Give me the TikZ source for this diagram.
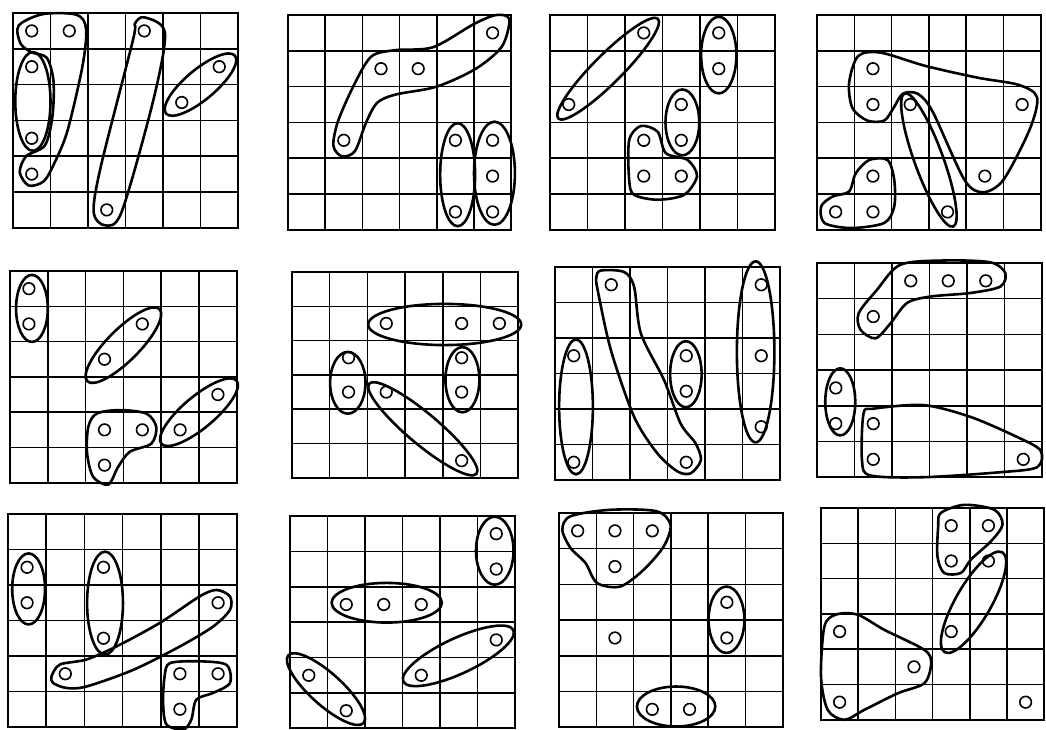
\documentclass[tikz,border=0pt]{standalone}
\usepackage{tikz}

\begin{document}
\begin{tikzpicture}[gridline/.style={line width=1.5pt},
  border/.style={line width=2pt},
  hole/.style={line width=1.6pt},
  lasso/.style={line width=2.6pt,line join=round}]
  \useasboundingbox (0pt,0pt) rectangle (1046pt,-729pt);

  % first row
  \begin{scope}[shift={(13pt,-13pt)},x=37.5pt,y=35.8pt,yscale=-1]
    \draw[gridline,step=1] (0,0) grid (6,6);
    \draw[border] (0,0) rectangle (6,6);
    \draw[hole] (0.5,0.5) circle (5.8pt);
    \draw[hole] (1.5,0.5) circle (5.8pt);
    \draw[hole] (0.5,1.5) circle (5.8pt);
    \draw[hole] (3.5,0.5) circle (5.8pt);
    \draw[hole] (5.5,1.5) circle (5.8pt);
    \draw[hole] (4.5,2.5) circle (5.8pt);
    \draw[hole] (0.5,3.5) circle (5.8pt);
    \draw[hole] (0.5,4.5) circle (5.8pt);
    \draw[hole] (2.5,5.5) circle (5.8pt);
    \draw[lasso] plot[smooth cycle] coordinates {(0.15,0.35) (0.8,0.03) (1.7,0.05) (1.95,0.45) (1.85,1.5) (1.45,3.3) (1.1,4.2) (0.82,4.7) (0.42,4.82) (0.18,4.45) (0.35,4.0) (0.85,3.7) (1.05,2.9) (1.08,1.9) (0.9,1.25) (0.5,1.1) (0.2,0.85)};
    \draw[lasso] (0.53,2.47) ellipse [x radius=0.47, y radius=1.38];
    \draw[lasso] plot[smooth cycle] coordinates {(3.5,0.12) (4.05,0.55) (3.75,2.4) (2.9,5.55) (2.45,5.93) (2.15,5.55) (2.35,4.25) (3.2,0.75) (3.25,0.3)};
    \draw[lasso,rotate around={-40:(5,2)}] (5,2) ellipse [x radius=1.2, y radius=0.42];
  \end{scope}

  \begin{scope}[shift={(288pt,-15pt)},x=37.2pt,y=35.8pt,yscale=-1]
    \draw[gridline,step=1] (0,0) grid (6,6);
    \draw[border] (0,0) rectangle (6,6);
    \draw[hole] (5.5,0.5) circle (5.8pt);
    \draw[hole] (2.5,1.5) circle (5.8pt);
    \draw[hole] (3.5,1.5) circle (5.8pt);
    \draw[hole] (1.5,3.5) circle (5.8pt);
    \draw[hole] (4.5,3.5) circle (5.8pt);
    \draw[hole] (5.5,3.5) circle (5.8pt);
    \draw[hole] (5.5,4.5) circle (5.8pt);
    \draw[hole] (4.5,5.5) circle (5.8pt);
    \draw[hole] (5.5,5.5) circle (5.8pt);
    \draw[lasso] plot[smooth cycle] coordinates {(5.95,0.12) (5.75,0.88) (5.05,1.5) (4.0,2.0) (2.9,2.22) (2.4,2.45) (2.1,3.0) (1.8,3.8) (1.45,3.95) (1.22,3.65) (1.35,2.95) (1.8,1.9) (2.25,1.15) (2.9,0.98) (3.9,0.9) (5.0,0.25) (5.6,0.0)};
    \draw[lasso] (4.56,4.46) ellipse [x radius=0.47, y radius=1.44];
    \draw[lasso] (5.55,4.42) ellipse [x radius=0.55, y radius=1.44];
  \end{scope}

  \begin{scope}[shift={(550pt,-15pt)},x=37.5pt,y=35.8pt,yscale=-1]
    \draw[gridline,step=1] (0,0) grid (6,6);
    \draw[border] (0,0) rectangle (6,6);
    \draw[hole] (2.5,0.5) circle (5.8pt);
    \draw[hole] (4.5,0.5) circle (5.8pt);
    \draw[hole] (4.5,1.5) circle (5.8pt);
    \draw[hole] (0.5,2.5) circle (5.8pt);
    \draw[hole] (3.5,2.5) circle (5.8pt);
    \draw[hole] (3.5,3.5) circle (5.8pt);
    \draw[hole] (2.5,3.5) circle (5.8pt);
    \draw[hole] (2.5,4.5) circle (5.8pt);
    \draw[hole] (3.5,4.5) circle (5.8pt);
    \draw[lasso,rotate around={-45:(1.55,1.5)}] (1.55,1.5) ellipse [x radius=1.88, y radius=0.4];
    \draw[lasso] (4.5,1.12) ellipse [x radius=0.47, y radius=1.07];
    \draw[lasso] (3.53,3.0) ellipse [x radius=0.45, y radius=0.92];
    \draw[lasso] plot[smooth cycle] coordinates {(2.11,3.5) (2.42,3.1) (2.87,3.26) (3.09,3.86) (3.67,4.05) (3.92,4.5) (3.58,5.02) (2.87,5.16) (2.24,5.02) (2.11,4.6)};
  \end{scope}

  \begin{scope}[shift={(817pt,-15pt)},x=37.3pt,y=35.8pt,yscale=-1]
    \draw[gridline,step=1] (0,0) grid (6,6);
    \draw[border] (0,0) rectangle (6,6);
    \draw[hole] (1.5,1.5) circle (5.8pt);
    \draw[hole] (1.5,2.5) circle (5.8pt);
    \draw[hole] (2.5,2.5) circle (5.8pt);
    \draw[hole] (5.5,2.5) circle (5.8pt);
    \draw[hole] (4.5,4.5) circle (5.8pt);
    \draw[hole] (1.5,4.5) circle (5.8pt);
    \draw[hole] (0.5,5.5) circle (5.8pt);
    \draw[hole] (1.5,5.5) circle (5.8pt);
    \draw[hole] (3.5,5.5) circle (5.8pt);
    \draw[lasso] plot[smooth cycle] coordinates {(0.86,1.9) (1.1,1.15) (1.7,1.05) (2.9,1.42) (4.3,1.75) (5.4,1.95) (5.9,2.3) (5.7,3.2) (5.0,4.6) (4.45,4.95) (3.95,4.6) (3.1,2.7) (2.7,2.2) (2.3,2.2) (2.05,2.6) (1.8,2.95) (1.35,2.95) (0.95,2.6)};
    \draw[lasso,rotate around={70:(3.0,4.05)}] (3.0,4.05) ellipse [x radius=1.9, y radius=0.4];
    \draw[lasso] plot[smooth cycle] coordinates {(1.04,4.42) (1.4,4.05) (1.89,4.05) (2.07,4.6) (2.07,5.35) (1.8,5.81) (0.91,5.95) (0.2,5.81) (0.11,5.35) (0.42,5.07) (0.86,4.93)};
  \end{scope}

  % second row
  \begin{scope}[shift={(10pt,-271pt)},x=37.8pt,y=35.3pt,yscale=-1]
    \draw[gridline,step=1] (0,0) grid (6,6);
    \draw[border] (0,0) rectangle (6,6);
    \draw[hole] (0.5,0.5) circle (5.8pt);
    \draw[hole] (0.5,1.5) circle (5.8pt);
    \draw[hole] (3.5,1.5) circle (5.8pt);
    \draw[hole] (2.5,2.5) circle (5.8pt);
    \draw[hole] (5.5,3.5) circle (5.8pt);
    \draw[hole] (4.5,4.5) circle (5.8pt);
    \draw[hole] (2.5,4.5) circle (5.8pt);
    \draw[hole] (3.5,4.5) circle (5.8pt);
    \draw[hole] (2.5,5.5) circle (5.8pt);
    \draw[lasso] (0.58,1.06) ellipse [x radius=0.42, y radius=0.95];
    \draw[lasso,rotate around={-45:(3.0,2.1)}] (3.0,2.1) ellipse [x radius=1.35, y radius=0.45];
    \draw[lasso,rotate around={-40:(5.0,4.0)}] (5.0,4.0) ellipse [x radius=1.3, y radius=0.45];
    \draw[lasso] plot[smooth cycle] coordinates {(2.07,4.42) (2.29,4.04) (2.9,3.94) (3.61,4.04) (3.87,4.42) (3.74,4.89) (3.17,5.12) (2.86,5.55) (2.6,6.05) (2.2,5.83) (2.04,5.17)};
  \end{scope}

  \begin{scope}[shift={(292pt,-272pt)},x=37.7pt,y=34.3pt,yscale=-1]
    \draw[gridline,step=1] (0,0) grid (6,6);
    \draw[border] (0,0) rectangle (6,6);
    \draw[hole] (2.5,1.5) circle (5.8pt);
    \draw[hole] (4.5,1.5) circle (5.8pt);
    \draw[hole] (5.5,1.5) circle (5.8pt);
    \draw[hole] (1.5,2.5) circle (5.8pt);
    \draw[hole] (1.5,3.5) circle (5.8pt);
    \draw[hole] (2.5,3.5) circle (5.8pt);
    \draw[hole] (4.5,2.5) circle (5.8pt);
    \draw[hole] (4.5,3.5) circle (5.8pt);
    \draw[hole] (4.5,5.5) circle (5.8pt);
    \draw[lasso] (4.05,1.53) ellipse [x radius=2.03, y radius=0.6];
    \draw[lasso] (1.48,3.23) ellipse [x radius=0.47, y radius=0.9];
    \draw[lasso] (4.52,3.14) ellipse [x radius=0.45, y radius=0.95];
    \draw[lasso,rotate around={40:(3.47,4.57)}] (3.47,4.57) ellipse [x radius=1.86, y radius=0.45];
  \end{scope}

  \begin{scope}[shift={(555pt,-267pt)},x=37.5pt,y=35.5pt,yscale=-1]
    \draw[gridline,step=1] (0,0) grid (6,6);
    \draw[border] (0,0) rectangle (6,6);
    \draw[hole] (1.5,0.5) circle (5.8pt);
    \draw[hole] (5.5,0.5) circle (5.8pt);
    \draw[hole] (0.5,2.5) circle (5.8pt);
    \draw[hole] (3.5,2.5) circle (5.8pt);
    \draw[hole] (3.5,3.5) circle (5.8pt);
    \draw[hole] (5.5,2.5) circle (5.8pt);
    \draw[hole] (5.5,4.5) circle (5.8pt);
    \draw[hole] (0.5,5.5) circle (5.8pt);
    \draw[hole] (3.5,5.5) circle (5.8pt);
    \draw[lasso] (0.56,3.94) ellipse [x radius=0.45, y radius=1.9];
    \draw[lasso] (5.35,2.39) ellipse [x radius=0.5, y radius=2.55];
    \draw[lasso] (3.49,3.02) ellipse [x radius=0.42, y radius=0.93];
    \draw[lasso] plot[smooth cycle] coordinates {(1.22,0.1) (1.84,0.14) (2.11,0.56) (2.29,1.87) (2.91,3.19) (3.35,4.41) (3.75,4.97) (3.89,5.44) (3.62,5.81) (3.27,5.76) (2.73,5.25) (2.11,4.22) (1.49,2.34) (1.14,0.66) (1.1,0.3)};
  \end{scope}

  \begin{scope}[shift={(817pt,-263pt)},x=37.5pt,y=35.7pt,yscale=-1]
    \draw[gridline,step=1] (0,0) grid (6,6);
    \draw[border] (0,0) rectangle (6,6);
    \draw[hole] (2.5,0.5) circle (5.8pt);
    \draw[hole] (3.5,0.5) circle (5.8pt);
    \draw[hole] (4.5,0.5) circle (5.8pt);
    \draw[hole] (1.5,1.5) circle (5.8pt);
    \draw[hole] (0.5,3.5) circle (5.8pt);
    \draw[hole] (0.5,4.5) circle (5.8pt);
    \draw[hole] (1.5,4.5) circle (5.8pt);
    \draw[hole] (1.5,5.5) circle (5.8pt);
    \draw[hole] (5.5,5.5) circle (5.8pt);
    \draw[lasso] plot[smooth cycle] coordinates {(1.11,1.41) (1.6,0.75) (2.22,0.05) (3.38,-0.07) (4.62,-0.02) (5.02,0.28) (4.89,0.66) (4.09,0.84) (3.02,0.94) (2.4,1.12) (1.96,1.69) (1.56,2.11) (1.16,1.87)};
    \draw[lasso] (0.62,3.89) ellipse [x radius=0.4, y radius=0.94];
    \draw[lasso] plot[smooth cycle] coordinates {(1.24,4.22) (1.51,4.08) (2.84,3.98) (4.09,4.31) (5.33,4.87) (5.96,5.25) (5.87,5.72) (4.89,5.86) (2.84,6.0) (1.42,5.95) (1.2,5.53)};
  \end{scope}

  % third row
  \begin{scope}[shift={(8pt,-514pt)},x=38.2pt,y=35.5pt,yscale=-1]
    \draw[gridline,step=1] (0,0) grid (6,6);
    \draw[border] (0,0) rectangle (6,6);
    \draw[hole] (0.5,1.5) circle (5.8pt);
    \draw[hole] (0.5,2.5) circle (5.8pt);
    \draw[hole] (2.5,1.5) circle (5.8pt);
    \draw[hole] (2.5,3.5) circle (5.8pt);
    \draw[hole] (5.5,2.5) circle (5.8pt);
    \draw[hole] (1.5,4.5) circle (5.8pt);
    \draw[hole] (4.5,4.5) circle (5.8pt);
    \draw[hole] (5.5,4.5) circle (5.8pt);
    \draw[hole] (4.5,5.5) circle (5.8pt);
    \draw[lasso] (0.54,2.11) ellipse [x radius=0.43, y radius=1.0];
    \draw[lasso] (2.54,2.51) ellipse [x radius=0.47, y radius=1.45];
    \draw[lasso] plot[smooth cycle] coordinates {(1.14,4.57) (1.36,4.24) (2.05,4.1) (2.84,3.73) (3.97,3.07) (5.02,2.32) (5.46,2.14) (5.81,2.32) (5.81,2.7) (5.37,3.17) (4.5,3.73) (3.28,4.39) (2.05,4.86) (1.53,4.9) (1.18,4.76)};
    \draw[lasso] plot[smooth cycle] coordinates {(4.1,4.57) (4.24,4.2) (5.02,4.15) (5.72,4.25) (5.81,4.76) (5.37,5.04) (4.93,5.23) (4.8,5.79) (4.59,6.07) (4.15,5.93) (4.06,5.32)};
  \end{scope}

  \begin{scope}[shift={(290pt,-516pt)},x=37.5pt,y=35.4pt,yscale=-1]
    \draw[gridline,step=1] (0,0) grid (6,6);
    \draw[border] (0,0) rectangle (6,6);
    \draw[hole] (5.5,0.5) circle (5.8pt);
    \draw[hole] (5.5,1.5) circle (5.8pt);
    \draw[hole] (1.5,2.5) circle (5.8pt);
    \draw[hole] (2.5,2.5) circle (5.8pt);
    \draw[hole] (3.5,2.5) circle (5.8pt);
    \draw[hole] (5.5,3.5) circle (5.8pt);
    \draw[hole] (3.5,4.5) circle (5.8pt);
    \draw[hole] (0.5,4.5) circle (5.8pt);
    \draw[hole] (1.5,5.5) circle (5.8pt);
    \draw[lasso] (5.46,0.98) ellipse [x radius=0.5, y radius=0.96];
    \draw[lasso] (2.58,2.45) ellipse [x radius=1.47, y radius=0.56];
    \draw[lasso,rotate around={-25:(4.49,3.95)}] (4.49,3.95) ellipse [x radius=1.62, y radius=0.5];
    \draw[lasso,rotate around={42:(0.96,4.89)}] (0.96,4.89) ellipse [x radius=1.35, y radius=0.45];
  \end{scope}

  \begin{scope}[shift={(559pt,-513pt)},x=37.3pt,y=35.7pt,yscale=-1]
    \draw[gridline,step=1] (0,0) grid (6,6);
    \draw[border] (0,0) rectangle (6,6);
    \draw[hole] (0.5,0.5) circle (5.8pt);
    \draw[hole] (1.5,0.5) circle (5.8pt);
    \draw[hole] (2.5,0.5) circle (5.8pt);
    \draw[hole] (1.5,1.5) circle (5.8pt);
    \draw[hole] (4.5,2.5) circle (5.8pt);
    \draw[hole] (4.5,3.5) circle (5.8pt);
    \draw[hole] (1.5,3.5) circle (5.8pt);
    \draw[hole] (2.5,5.5) circle (5.8pt);
    \draw[hole] (3.5,5.5) circle (5.8pt);
    \draw[lasso] plot[smooth cycle] coordinates {(0.09,0.47) (0.31,0.09) (1.38,-0.09) (2.61,-0.05) (2.99,0.33) (2.81,0.93) (2.27,1.59) (1.64,2.06) (1.02,1.96) (0.71,1.4) (0.31,0.98)};
    \draw[lasso] (4.49,2.99) ellipse [x radius=0.48, y radius=0.93];
    \draw[lasso] (3.14,5.42) ellipse [x radius=1.05, y radius=0.56];
  \end{scope}

  \begin{scope}[shift={(821pt,-508pt)},x=37.2pt,y=35.3pt,yscale=-1]
    \draw[gridline,step=1] (0,0) grid (6,6);
    \draw[border] (0,0) rectangle (6,6);
    \draw[hole] (3.5,0.5) circle (5.8pt);
    \draw[hole] (4.5,0.5) circle (5.8pt);
    \draw[hole] (3.5,1.5) circle (5.8pt);
    \draw[hole] (4.5,1.5) circle (5.8pt);
    \draw[hole] (3.5,3.5) circle (5.8pt);
    \draw[hole] (0.5,3.5) circle (5.8pt);
    \draw[hole] (2.5,4.5) circle (5.8pt);
    \draw[hole] (0.5,5.5) circle (5.8pt);
    \draw[hole] (5.5,5.5) circle (5.8pt);
    \draw[lasso] plot[smooth cycle] coordinates {(3.22,0.14) (3.85,-0.09) (4.66,0.05) (4.88,0.47) (4.57,0.94) (4.03,1.46) (3.76,1.84) (3.31,1.84) (3.13,1.37) (3.15,0.52)};
    \draw[lasso,rotate around={-60:(4.1,2.67)}] (4.1,2.67) ellipse [x radius=1.55, y radius=0.5];
    \draw[lasso] plot[smooth cycle] coordinates {(0.09,3.36) (0.4,3.02) (0.98,3.02) (1.7,3.45) (2.78,4.02) (2.96,4.39) (2.78,4.96) (2.06,5.25) (1.16,5.72) (0.63,6.0) (0.18,5.72) (0.0,4.77)};
  \end{scope}
\end{tikzpicture}
\end{document}
